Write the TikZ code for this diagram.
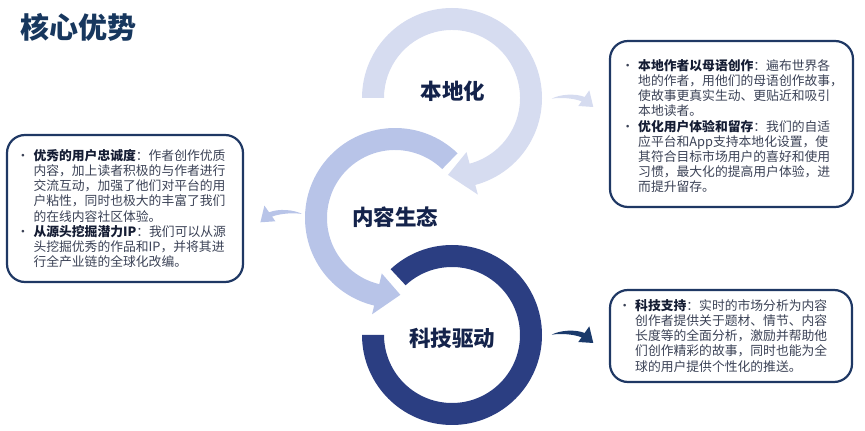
\documentclass[tikz,border=0pt]{standalone}
\usepackage{fontspec}
\setmainfont{Noto Sans CJK SC}
\usetikzlibrary{calc}

\definecolor{ringtop}{HTML}{D6DCF0}
\definecolor{ringmid}{HTML}{B8C4E8}
\definecolor{ringbot}{HTML}{2B3E82}
\definecolor{arrowdark}{HTML}{1A3A6B}
\definecolor{boxnavy}{HTML}{1F3864}
\definecolor{titlenavy}{HTML}{17375E}
\definecolor{labelnavy}{HTML}{14234B}
\definecolor{textbody}{HTML}{3B4256}
\definecolor{textbold}{HTML}{141C33}

\newcommand{\bul}{\llap{\makebox[21pt]{•}}}
\newcommand{\keyterm}[1]{{\bfseries\color{textbold}#1}}

\begin{document}
\begin{tikzpicture}[x=1pt, y=1pt, line join=round]
\tikzstyle{infobox}=[draw=boxnavy, line width=2.2pt, rounded corners=18pt, fill=white, inner sep=0pt]
\tikzstyle{bodytext}=[anchor=north west, align=left, inner sep=0pt, text=textbody, font=\fontsize{12.8}{15.2}\selectfont]
\tikzstyle{ringlabel}=[text=labelnavy, inner sep=0pt, font=\fontsize{21.5}{21.5}\selectfont\bfseries]
\useasboundingbox (0,0) rectangle (865,431);

\node[text=titlenavy, inner sep=0pt, font=\fontsize{29}{29}\selectfont\bfseries] (title) at (78.5,403.5) {核心优势};

\coordinate (Ctop) at (452,333);
\coordinate (Cmid) at (395,213);
\coordinate (Cbot) at (452,96);

\fill[ringtop] ([shift={(180:90)}]Ctop) arc[start angle=180, end angle=-75, radius=90]
  -- ([shift={(-75:100)}]Ctop) -- ([shift={(-93:77)}]Ctop) -- ([shift={(-75:56)}]Ctop)
  -- ([shift={(-75:68)}]Ctop) arc[start angle=-75, end angle=180, radius=68] -- cycle;
\fill[ringmid] ([shift={(46:90)}]Cmid) arc[start angle=46, end angle=256.6, radius=90]
  -- ([shift={(256.6:99)}]Cmid) -- ([shift={(274:77)}]Cmid) -- ([shift={(256.6:57)}]Cmid)
  -- ([shift={(256.6:68)}]Cmid) arc[start angle=256.6, end angle=46, radius=68] -- cycle;
\fill[ringbot] ([shift={(180:90)}]Cbot) arc[start angle=180, end angle=493, radius=90]
  -- ([shift={(133:68)}]Cbot) arc[start angle=493, end angle=180, radius=68] -- cycle;

\node[ringlabel] (local) at (453,340) {本地化};
\node[ringlabel] (content) at (395,213.5) {内容生态};
\node[ringlabel] (tech) at (452,93) {科技驱动};

\coordinate (tailA) at (302,217);
\coordinate (tailB) at (551.7,332.3);
\coordinate (tailC) at (551.7,96.3);
\fill[ringmid, shift={(tailA)}, xscale=-1] (0,0) .. controls (8,4.5) and (24,5.5) .. (32.9,1.7)
  -- (37.6,8.4) -- (41.6,-8.3) -- (26.6,-7.3) -- (29.9,-2.6) .. controls (22,0.5) and (9,1.5) .. (0,0) -- cycle;
\fill[ringtop, shift={(tailB)}] (0,0) .. controls (8,4.5) and (24,5.5) .. (32.9,1.7)
  -- (37.6,8.4) -- (41.6,-8.3) -- (26.6,-7.3) -- (29.9,-2.6) .. controls (22,0.5) and (9,1.5) .. (0,0) -- cycle;
\fill[arrowdark, shift={(tailC)}] (0,0) .. controls (8,4.5) and (24,5.5) .. (32.9,1.7)
  -- (37.6,8.4) -- (41.6,-8.3) -- (26.6,-7.3) -- (29.9,-2.6) .. controls (22,0.5) and (9,1.5) .. (0,0) -- cycle;

\node[infobox, minimum width=236pt, minimum height=147pt] (leftbox) at (125,222.5) {};
\node[infobox, minimum width=243pt, minimum height=166pt] (topbox) at (731.5,307) {};
\node[infobox, minimum width=242pt, minimum height=92pt] (botbox) at (731,95) {};

\node[bodytext] (lefttext) at (33.3,281.9) {\bul\keyterm{优秀的用户忠诚度}：作者创作优质\\
内容，加上读者积极的与作者进行\\
交流互动，加强了他们对平台的用\\
户粘性，同时也极大的丰富了我们\\
的在线内容社区体验。\\
\bul\keyterm{从源头挖掘潜力IP}：我们可以从源\\
头挖掘优秀的作品和IP，并将其进\\
行全产业链的全球化改编。};

\node[bodytext] (toptext) at (638,371.9) {\bul\keyterm{本地作者以母语创作}：遍布世界各\\
地的作者，用他们的母语创作故事，\\
使故事更真实生动、更贴近和吸引\\
本地读者。\\
\bul\keyterm{优化用户体验和留存}：我们的自适\\
应平台和App支持本地化设置，使\\
其符合目标市场用户的喜好和使用\\
习惯，最大化的提高用户体验，进\\
而提升留存。};

\node[bodytext] (bottext) at (635,131.9) {\bul\keyterm{科技支持}：实时的市场分析为内容\\
创作者提供关于题材、情节、内容\\
长度等的全面分析，激励并帮助他\\
们创作精彩的故事，同时也能为全\\
球的用户提供个性化的推送。};
\end{tikzpicture}
\end{document}
